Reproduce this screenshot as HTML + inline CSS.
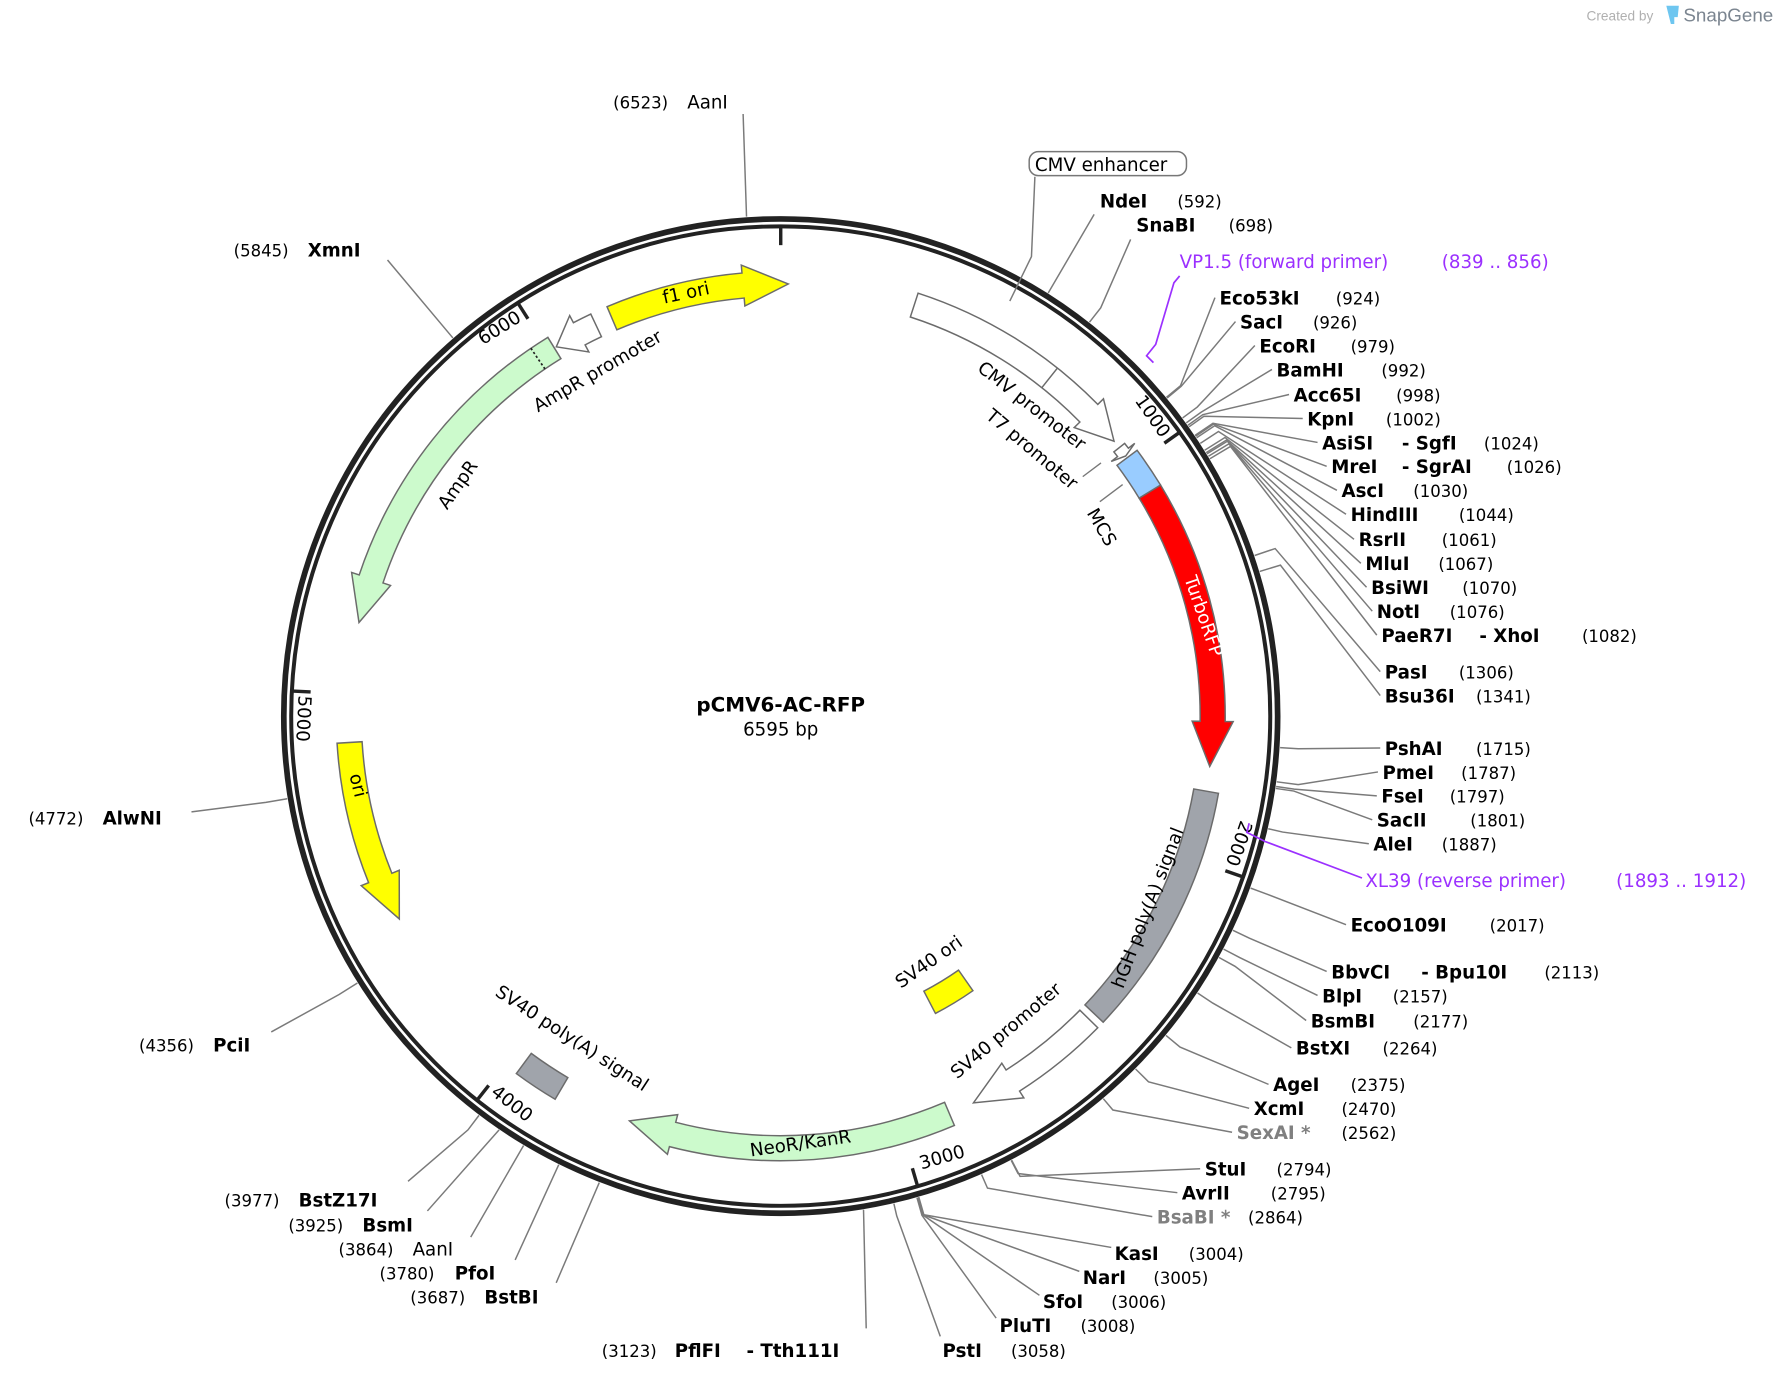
<!DOCTYPE html>
<html><head><meta charset="utf-8"><style>
html,body{margin:0;padding:0;background:#fff;}
svg{display:block}
text{font-family:"DejaVu Sans","Liberation Sans",sans-serif;}
.n{font-weight:bold;font-size:16px;fill:#000}
.p{font-size:14.5px;fill:#000}
.g{font-weight:bold;font-size:16px;fill:#808080}
.f{font-size:16px;fill:#000}
.v{font-size:16px;fill:#9b30ff}
</style></head><body>
<svg id="s" width="1778" height="1374" viewBox="0 0 1560 1205" preserveAspectRatio="none" xmlns="http://www.w3.org/2000/svg">
<g id="lines" stroke="#7a7a7a" stroke-width="1.3" fill="none"></g>
<g id="feat"></g>
<circle cx="685" cy="628" r="436" fill="none" stroke="#222" stroke-width="5"/>
<circle cx="685" cy="628" r="429.5" fill="none" stroke="#222" stroke-width="3.5"/>
<g id="ticks" stroke="#222" stroke-width="3"></g>

<text x="685" y="624" text-anchor="middle" style="font-weight:bold;font-size:17.5px">pCMV6-AC-RFP</text>
<text x="685" y="645" text-anchor="middle" style="font-size:16px">6595 bp</text>

<text class="f" font-size="14" transform="translate(1007,368) rotate(55)" text-anchor="middle">1000</text>
<text class="f" font-size="14" transform="translate(1082,738) rotate(109)" text-anchor="middle">2000</text>
<text class="f" font-size="14" transform="translate(828,1020) rotate(-16)" text-anchor="middle">3000</text>
<text class="f" font-size="14" transform="translate(446,972) rotate(38)" text-anchor="middle">4000</text>
<text class="f" font-size="14" transform="translate(261,630) rotate(93)" text-anchor="middle">5000</text>
<text class="f" font-size="14" transform="translate(441,292) rotate(-32)" text-anchor="middle">6000</text>

<text class="f" transform="translate(603,262) rotate(-12)" text-anchor="middle">f1 ori</text>
<text class="f" transform="translate(527,330) rotate(-30)" text-anchor="middle">AmpR promoter</text>
<text class="f" transform="translate(406,428) rotate(-55)" text-anchor="middle">AmpR</text>
<text class="f" transform="translate(309,690) rotate(76)" text-anchor="middle">ori</text>
<text class="f" transform="translate(703,1008) rotate(-8)" text-anchor="middle">NeoR/KanR</text>
<text class="f" transform="translate(499,915) rotate(33)" text-anchor="middle">SV40 poly(A) signal</text>
<text class="f" transform="translate(818,848) rotate(-35)" text-anchor="middle">SV40 ori</text>
<text class="f" transform="translate(886,908) rotate(-40)" text-anchor="middle">SV40 promoter</text>
<text class="f" transform="translate(1012,798) rotate(-69)" text-anchor="middle">hGH poly(A) signal</text>
<text transform="translate(1051,542) rotate(71)" text-anchor="middle" style="font-size:16px;fill:#fff">TurboRFP</text>
<text class="f" transform="translate(902,360) rotate(38)" text-anchor="middle">CMV promoter</text>
<text class="f" transform="translate(902,398) rotate(40)" text-anchor="middle">T7 promoter</text>
<text class="f" transform="translate(962,465) rotate(60)" text-anchor="middle">MCS</text>
<line x1="950" y1="418" x2="966" y2="406" stroke="#777" stroke-width="1.2"/>
<line x1="965" y1="440" x2="985" y2="425" stroke="#777" stroke-width="1.2"/>

<rect x="903" y="133" width="138" height="21" rx="8" fill="#fff" stroke="#777" stroke-width="1.3"/>
<text class="f" x="908" y="150">CMV enhancer</text>
<polyline points="908,155 905,225 886,264" fill="none" stroke="#7a7a7a" stroke-width="1.3"/>

<polyline points="1035,242 1030,248 1014,302 1006,312 1012,318" fill="none" stroke="#9b30ff" stroke-width="1.5"/>
<text class="v" x="1035" y="235">VP1.5 (forward primer)</text>
<text class="v" x="1265" y="235">(839 .. 856)</text>
<polyline points="1096,722 1094,730 1110,738 1195,770" fill="none" stroke="#9b30ff" stroke-width="1.5"/>
<text class="v" x="1198" y="778">XL39 (reverse primer)</text>
<text class="v" x="1418" y="778">(1893 .. 1912)</text>

<text class="p" x="538" y="95">(6523)</text><text class="f" x="603" y="95">AanI</text>
<line x1="652" y1="100" x2="655" y2="190" stroke="#7a7a7a" stroke-width="1.3"/>
<text class="p" x="205" y="225">(5845)</text><text class="n" x="270" y="225">XmnI</text>
<text class="p" x="25" y="723">(4772)</text><text class="n" x="90" y="723">AlwNI</text>
<text class="p" x="122" y="922">(4356)</text><text class="n" x="187" y="922">PciI</text>
<text class="p" x="197" y="1058">(3977)</text><text class="n" x="262" y="1058">BstZ17I</text>
<text class="p" x="253" y="1080">(3925)</text><text class="n" x="318" y="1080">BsmI</text>
<text class="p" x="297" y="1101">(3864)</text><text class="f" x="362" y="1101">AanI</text>
<text class="p" x="333" y="1122">(3780)</text><text class="n" x="399" y="1122">PfoI</text>
<text class="p" x="360" y="1143">(3687)</text><text class="n" x="425" y="1143">BstBI</text>
<text class="p" x="528" y="1190">(3123)</text><text class="n" x="592" y="1190">PflFI</text><text class="n" x="655" y="1190">- Tth111I</text>
<text class="n" x="827" y="1190">PstI</text><text class="p" x="887" y="1190">(3058)</text>
<text class="n" x="877" y="1168">PluTI</text><text class="p" x="948" y="1168">(3008)</text>
<text class="n" x="915" y="1147">SfoI</text><text class="p" x="975" y="1147">(3006)</text>
<text class="n" x="950" y="1126">NarI</text><text class="p" x="1012" y="1126">(3005)</text>
<text class="n" x="978" y="1105">KasI</text><text class="p" x="1043" y="1105">(3004)</text>
<text class="g" x="1015" y="1073">BsaBI *</text><text class="p" x="1095" y="1073">(2864)</text>
<text class="n" x="1037" y="1052">AvrII</text><text class="p" x="1115" y="1052">(2795)</text>
<text class="n" x="1057" y="1031">StuI</text><text class="p" x="1120" y="1031">(2794)</text>
<text class="g" x="1085" y="999">SexAI *</text><text class="p" x="1177" y="999">(2562)</text>
<text class="n" x="1100" y="978">XcmI</text><text class="p" x="1177" y="978">(2470)</text>
<text class="n" x="1117" y="957">AgeI</text><text class="p" x="1185" y="957">(2375)</text>
<text class="n" x="1137" y="925">BstXI</text><text class="p" x="1213" y="925">(2264)</text>
<text class="n" x="1150" y="901">BsmBI</text><text class="p" x="1240" y="901">(2177)</text>
<text class="n" x="1160" y="879">BlpI</text><text class="p" x="1222" y="879">(2157)</text>
<text class="n" x="1168" y="858">BbvCI</text><text class="n" x="1247" y="858">- Bpu10I</text><text class="p" x="1355" y="858">(2113)</text>
<text class="n" x="1185" y="817">EcoO109I</text><text class="p" x="1307" y="817">(2017)</text>
<text class="n" x="1205" y="746">AleI</text><text class="p" x="1265" y="746">(1887)</text>
<text class="n" x="1208" y="725">SacII</text><text class="p" x="1290" y="725">(1801)</text>
<text class="n" x="1212" y="704">FseI</text><text class="p" x="1272" y="704">(1797)</text>
<text class="n" x="1213" y="683">PmeI</text><text class="p" x="1282" y="683">(1787)</text>
<text class="n" x="1215" y="662">PshAI</text><text class="p" x="1295" y="662">(1715)</text>
<text class="n" x="1215" y="616">Bsu36I</text><text class="p" x="1295" y="616">(1341)</text>
<text class="n" x="1215" y="595">PasI</text><text class="p" x="1280" y="595">(1306)</text>
<text class="n" x="1212" y="563">PaeR7I</text><text class="n" x="1298" y="563">- XhoI</text><text class="p" x="1388" y="563">(1082)</text>
<text class="n" x="1208" y="542">NotI</text><text class="p" x="1272" y="542">(1076)</text>
<text class="n" x="1203" y="521">BsiWI</text><text class="p" x="1283" y="521">(1070)</text>
<text class="n" x="1198" y="500">MluI</text><text class="p" x="1262" y="500">(1067)</text>
<text class="n" x="1192" y="479">RsrII</text><text class="p" x="1265" y="479">(1061)</text>
<text class="n" x="1185" y="457">HindIII</text><text class="p" x="1280" y="457">(1044)</text>
<text class="n" x="1177" y="436">AscI</text><text class="p" x="1240" y="436">(1030)</text>
<text class="n" x="1168" y="415">MreI</text><text class="n" x="1230" y="415">- SgrAI</text><text class="p" x="1322" y="415">(1026)</text>
<text class="n" x="1160" y="394">AsiSI</text><text class="n" x="1230" y="394">- SgfI</text><text class="p" x="1302" y="394">(1024)</text>
<text class="n" x="1147" y="373">KpnI</text><text class="p" x="1216" y="373">(1002)</text>
<text class="n" x="1135" y="352">Acc65I</text><text class="p" x="1225" y="352">(998)</text>
<text class="n" x="1120" y="330">BamHI</text><text class="p" x="1212" y="330">(992)</text>
<text class="n" x="1105" y="309">EcoRI</text><text class="p" x="1185" y="309">(979)</text>
<text class="n" x="1088" y="288">SacI</text><text class="p" x="1152" y="288">(926)</text>
<text class="n" x="1070" y="267">Eco53kI</text><text class="p" x="1172" y="267">(924)</text>
<text class="n" x="997" y="203">SnaBI</text><text class="p" x="1078" y="203">(698)</text>
<text class="n" x="965" y="182">NdeI</text><text class="p" x="1033" y="182">(592)</text>

<text x="1392" y="18" style="font-family:'Liberation Sans',sans-serif;font-size:12px;fill:#b0b0b0">Created by</text>
<path d="M1462,5 h7 v16 h-3 z M1469,5 h4 l-1,10 h-3 z" fill="#6ec6f0"/>
<text x="1477" y="19" style="font-family:'Liberation Sans',sans-serif;font-size:16.5px;fill:#7b8590">SnapGene</text>

<script>
(function(){
var cx=685,cy=628,NS="http://www.w3.org/2000/svg";
function P(r,t){t=t*Math.PI/180;return [cx+r*Math.sin(t),cy-r*Math.cos(t)];}
function f(p){return p[0].toFixed(2)+","+p[1].toFixed(2);}
function el(parent,tag,attrs){var e=document.createElementNS(NS,tag);for(var k in attrs)e.setAttribute(k,attrs[k]);document.getElementById(parent).appendChild(e);return e;}
function band(t1,t2,r1,r2,h,fill,stroke){
 var dir=t2>t1?1:-1,sw=dir>0?1:0,nsw=1-sw;
 var tb=t2-dir*h, d;
 var lg=Math.abs(tb-t1)>180?1:0;
 if(h>0){
  var rm=(r1+r2)/2,w=7;
  d="M"+f(P(r2,t1))+" A"+r2+","+r2+" 0 "+lg+" "+sw+" "+f(P(r2,tb))+" L"+f(P(r2+w,tb))+" L"+f(P(rm,t2))+" L"+f(P(r1-w,tb))+" L"+f(P(r1,tb))+" A"+r1+","+r1+" 0 "+lg+" "+nsw+" "+f(P(r1,t1))+" Z";
 } else {
  d="M"+f(P(r2,t1))+" A"+r2+","+r2+" 0 "+lg+" "+sw+" "+f(P(r2,t2))+" L"+f(P(r1,t2))+" A"+r1+","+r1+" 0 "+lg+" "+nsw+" "+f(P(r1,t1))+" Z";
 }
 el("feat","path",{d:d,fill:fill,stroke:stroke||"#6b6b6b","stroke-width":1.3,"stroke-linejoin":"miter"});
}
var R1=368,R2=390;
band(-23,1,R1,R2,6,"#ffff00");
band(-25.3,-31.3,R1,R2,3.5,"#ffffff");
band(-31.6,-77.5,R1,R2,6,"#ccfacc");
band(-93.5,-118,R1,R2,6,"#ffff00");
band(157,200.5,R1,R2,6,"#ccfacc");
band(210.5,216.5,R1,R2,0,"#a0a4ab");
band(145,152.5,272,294,0,"#ffff00");
band(134.5,153.5,R1,R2,6,"#ffffff");
band(100,133.5,R1,R2,0,"#a0a4ab");
band(58.7,96.7,R1,R2,6,"#ff0000");
band(53.3,58.7,R1,R2,0,"#99ccff");
band(51.6,53,R1+5,R2-5,0.6,"#ffffff");
band(18,50.5,R1,R2,5,"#ffffff");
var a=P(R1,38.5),b=P(R2,38.5);el("feat","line",{x1:a[0],y1:a[1],x2:b[0],y2:b[1],stroke:"#6b6b6b","stroke-width":1.3});
a=P(R1,-34.2);b=P(R2,-34.2);el("feat","line",{x1:a[0],y1:a[1],x2:b[0],y2:b[1],stroke:"#222","stroke-width":1.5,"stroke-dasharray":"2,2"});
[0,1000,2000,3000,4000,5000,6000].forEach(function(bp){var t=bp/6595*360;var p1=P(431,t),p2=P(413,t);el("ticks","line",{x1:p1[0],y1:p1[1],x2:p2[0],y2:p2[1]});});
var L=[
[5845,340,228,0],[4772,168,712,458],[4356,238,905,458],[3977,358,1036,455],[3925,375,1062,0],[3864,413,1085,0],[3780,452,1105,0],[3687,488,1125,0],
[3123,760,1165,0],[3058,825,1172,450],[3008,874,1156,455],[3006,912,1136,455],[3005,947,1115,455],[3004,975,1094,455],
[2864,1011,1067,452],[2795,1033,1046,452],[2794,1053,1025,455],[2562,1081,993,452],[2470,1096,972,455],[2375,1113,951,455],[2264,1133,919,455],[2177,1146,895,455],[2157,1156,873,455],[2113,1164,852,455],[2017,1181,811,455],
[1887,1201,740,452],[1801,1204,719,455],[1797,1208,698,455],[1787,1209,677,458],[1715,1211,656,455],
[1341,1211,610,458],[1306,1211,589,458],[1082,1208,557,460],[1076,1204,536,460],[1070,1199,515,460],[1067,1194,494,460],[1061,1188,473,460],[1044,1181,451,458],[1030,1173,430,458],[1026,1164,409,458],[1024,1156,388,458],[1002,1143,367,455],[998,1131,346,455],[992,1116,324,455],[979,1101,303,455],[926,1084,282,455],[924,1066,261,455],
[698,992,210,455],[592,960,188,0]];
L.forEach(function(l){var t=l[0]/6595*360,p=P(439,t),pts=f(p);if(l[3]){pts+=" "+f(P(l[3],t));}pts+=" "+l[1]+","+l[2];el("lines","polyline",{points:pts});});
})();
</script>
</svg>
</body></html>
